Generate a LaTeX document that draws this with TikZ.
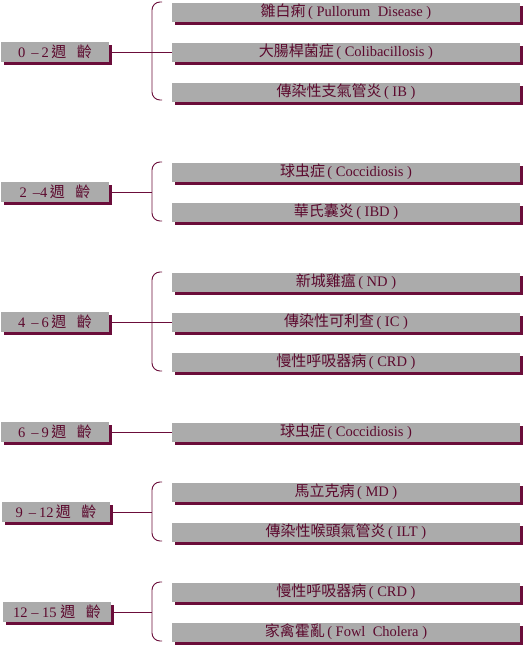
\documentclass[tikz,border=0pt]{standalone}
\usepackage{fontspec}
\setmainfont{Liberation Serif}
\newfontfamily\cjk{Noto Sans CJK TC}
\usepackage{tikz}
\usetikzlibrary{shadows,positioning}
\usepackage{xcolor}
\definecolor{boxgray}{HTML}{ABABAB}
\definecolor{wine}{HTML}{6B0D3A}
\definecolor{winetext}{HTML}{5C0A2E}
\newcommand{\zh}[1]{{\cjk\fontsize{15}{17}\selectfont #1}}
\newcommand{\weeks}{\zh{週\hspace{.7em}齡}}

\begin{document}
\begin{tikzpicture}[x=1pt,y=-1pt,font=\fontsize{14.5}{17}\selectfont,
  agebox/.style={fill=boxgray,text=winetext,inner sep=0pt,
    minimum width=108pt,minimum height=20pt,
    drop shadow={shadow xshift=3pt,shadow yshift=-3pt,fill=wine,opacity=1}},
  disbox/.style={agebox,minimum width=348pt,minimum height=19pt},
  link/.style={draw=wine,line width=0.9pt}]
  \useasboundingbox (0,0) rectangle (524,646);

  % Helper macro: bracket in front of a group. #1 top y, #2 bottom y
  \newcommand{\groupbrace}[2]{%
    \draw[link,rounded corners=8pt] (162,#1) -- (152,#1) -- (152,#2) -- (162,#2);
  }

  % 0--2 weeks
  \node[agebox] (age02) at (55,52) {0\hspace{6pt}–\hspace{3pt}2\,\weeks};
  \node[disbox] (pullorum) at (346,12) {\zh{雛白痢}\,( Pullorum\ \ Disease )};
  \node[disbox] (coli) at (346,52) {\zh{大腸桿菌症}\,( Colibacillosis )};
  \node[disbox] (ib) at (346,92) {\zh{傳染性支氣管炎}\,( IB )};
  \groupbrace{2}{100}
  \draw[link] (age02.east) -- (coli.west);

  % 2--4 weeks
  \node[agebox] (age24) at (55,192) {2\hspace{6pt}–4\,\weeks};
  \node[disbox] (cocci24) at (346,172) {\zh{球虫症}\,( Coccidiosis )};
  \node[disbox] (ibd) at (346,212) {\zh{華氏囊炎}\,( IBD )};
  \groupbrace{162}{221}
  \coordinate (b24) at (152,192);
  \draw[link] (age24.east) -- (b24);

  % 4--6 weeks
  \node[agebox] (age46) at (55,322) {4\hspace{6pt}–\hspace{3pt}6\,\weeks};
  \node[disbox] (nd) at (346,282) {\zh{新城雞瘟}\,( ND )};
  \node[disbox] (ic) at (346,322) {\zh{傳染性可利查}\,( IC )};
  \node[disbox] (crd46) at (346,362) {\zh{慢性呼吸器病}\,( CRD )};
  \groupbrace{272}{371}
  \draw[link] (age46.east) -- (ic.west);

  % 6--9 weeks
  \node[agebox] (age69) at (55,432) {6\hspace{6pt}–\hspace{3pt}9\,\weeks};
  \node[disbox] (cocci69) at (346,432) {\zh{球虫症}\,( Coccidiosis )};
  \draw[link] (age69.east) -- (cocci69.west);

  % 9--12 weeks
  \node[agebox] (age912) at (56,512) {9\hspace{6pt}–\hspace{3pt}12\,\weeks};
  \node[disbox] (md) at (346,492) {\zh{馬立克病}\,( MD )};
  \node[disbox] (ilt) at (346,532) {\zh{傳染性喉頭氣管炎}\,( ILT )};
  \groupbrace{482}{541}
  \coordinate (b912) at (152,512);
  \draw[link] (age912.east) -- (b912);

  % 12--15 weeks
  \node[agebox] (age1215) at (57,612) {12 – 15 \weeks};
  \node[disbox] (crd1215) at (346,592) {\zh{慢性呼吸器病}\,( CRD )};
  \node[disbox] (cholera) at (346,632) {\zh{家禽霍亂}\,( Fowl\ \ Cholera )};
  \groupbrace{582}{641}
  \coordinate (b1215) at (152,612);
  \draw[link] (age1215.east) -- (b1215);
\end{tikzpicture}
\end{document}
